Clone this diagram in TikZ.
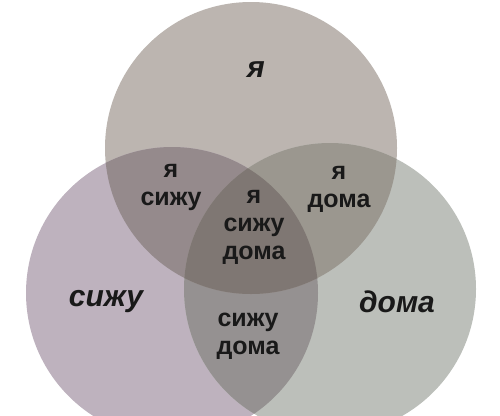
\documentclass[tikz,border=0pt]{standalone}
\usepackage{fontspec}
\setmainfont{Liberation Sans}
\definecolor{ringtop}{HTML}{BCB5B0}
\definecolor{ringleft}{HTML}{BEB2BE}
\definecolor{ringright}{HTML}{BCBFBA}
\definecolor{overtl}{HTML}{958A8C}
\definecolor{overtr}{HTML}{9B978F}
\definecolor{overbot}{HTML}{959191}
\definecolor{overmid}{HTML}{7F7773}
\begin{document}
\begin{tikzpicture}
  [x=1pt,y=-1pt,
   outer/.style={font=\fontsize{30}{30}\selectfont\bfseries\itshape, inner sep=0pt, text=black!90},
   inner/.style={font=\fontsize{25}{28}\selectfont\bfseries, align=center, inner sep=0pt, text=black!90}]
  \useasboundingbox (0,0) rectangle (500,415);
  \coordinate (ya) at (251,148);
  \coordinate (sizhu) at (172,293);
  \coordinate (doma) at (330,289);

  % the three sets
  \fill[ringtop] (ya) circle[radius=146pt];
  \fill[ringleft] (sizhu) circle[radius=146pt];
  \fill[ringright] (doma) circle[radius=146pt];

  % overlaps
  \begin{scope}
    \clip (sizhu) circle[radius=146pt];
    \fill[overbot] (doma) circle[radius=146pt];
  \end{scope}
  \begin{scope}
    \clip (ya) circle[radius=146pt];
    \fill[overtl] (sizhu) circle[radius=146pt];
    \fill[overtr] (doma) circle[radius=146pt];
    \clip (sizhu) circle[radius=146pt];
    \fill[overmid] (doma) circle[radius=146pt];
  \end{scope}

  \node[outer] (tya) at (256,70) {я};
  \node[outer] (tsizhu) at (106,302) {сижу};
  \node[outer] (tdoma) at (397,302) {дома};
  \node[inner] (tyasizhu) at (171,187) {я\\сижу};
  \node[inner] (tyadoma) at (339,189) {я\\дома};
  \node[inner] (tall) at (254,227) {я\\сижу\\дома};
  \node[inner] (tsizhudoma) at (248,336) {сижу\\дома};
\end{tikzpicture}
\end{document}
